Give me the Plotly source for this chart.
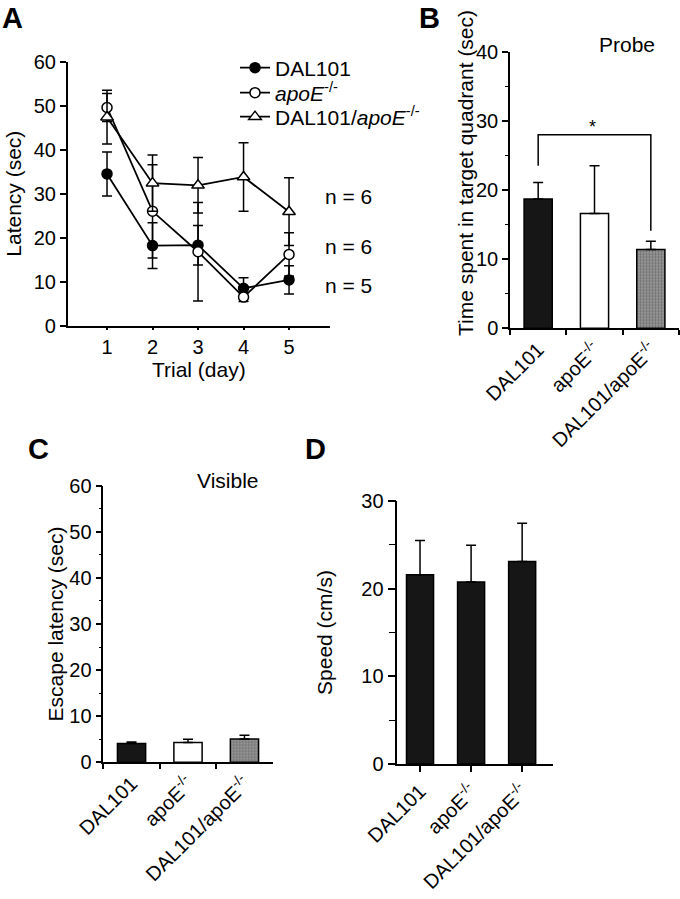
import plotly.graph_objects as go

W, H = 680, 899
FONT = "Liberation Sans, Arial, sans-serif"

# ---------------- data ----------------
days = [1, 2, 3, 4, 5]
lat_dal = [34.5, 18.2, 18.3, 8.5, 10.4]
lat_dal_err = [5.0, 5.2, 4.5, 2.4, 3.2]
lat_apoe = [49.6, 26.0, 16.8, 6.5, 16.2]
lat_apoe_err = [3.2, 10.6, 11.2, 1.0, 4.9]
lat_combo = [47.4, 32.4, 31.9, 33.8, 25.9]
lat_combo_err = [6.1, 6.4, 6.3, 7.8, 7.7]

groups = ["DAL101", "apoE", "DAL101/apoE"]
group_labels = ["DAL101", "apoE<sup>-/-</sup>", "DAL101/apoE<sup>-/-</sup>"]

probe_mean = [18.7, 16.6, 11.4]
probe_err = [2.4, 6.9, 1.2]

visible_mean = [4.1, 4.3, 5.05]
visible_err = [0.3, 0.7, 0.8]

speed_mean = [21.6, 20.75, 23.1]
speed_err = [3.9, 4.2, 4.35]

n_labels = ["n = 6", "n = 6", "n = 5"]

TICK = 20
TXT = 21


def px(x):
    return x / W


def py(y):
    return 1 - y / H


fig = go.Figure()

# ---------------- panel A ----------------
eb = dict(type="data", visible=True, color="black", thickness=1.5, width=5)
fig.add_trace(go.Scatter(
    x=days, y=lat_dal, name="DAL101", mode="lines+markers", legend="legend",
    line=dict(color="black", width=1.8),
    marker=dict(symbol="circle", size=10, color="black", line=dict(color="black", width=1.5)),
    error_y=dict(array=lat_dal_err, **eb), xaxis="x", yaxis="y"))
fig.add_trace(go.Scatter(
    x=days, y=lat_apoe, name="<i>apoE</i><sup>-/-</sup>", mode="lines+markers", legend="legend2",
    line=dict(color="black", width=1.8),
    marker=dict(symbol="circle", size=10, color="white", line=dict(color="black", width=1.5)),
    error_y=dict(array=lat_apoe_err, **eb), xaxis="x", yaxis="y"))
fig.add_trace(go.Scatter(
    x=days, y=lat_combo, name="DAL101/<i>apoE</i><sup>-/-</sup>", mode="lines+markers",
    legend="legend3",
    line=dict(color="black", width=1.8),
    marker=dict(symbol="triangle-up", size=11, color="white", line=dict(color="black", width=1.5)),
    error_y=dict(array=lat_combo_err, **eb), xaxis="x", yaxis="y"))

# ---------------- bar panels ----------------
bar_colors = ["#161616", "white", "#9a9a9a"]
bar_pattern = dict(shape=["", "", "."], fgcolor="#3a3a3a", bgcolor="#d8d8d8", size=3, solidity=0.45)
beb = dict(type="data", visible=True, color="black", thickness=1.5, width=5,
           symmetric=False, arrayminus=[0, 0, 0])

fig.add_trace(go.Bar(
    x=groups, y=probe_mean, width=0.5, showlegend=False,
    marker=dict(color=bar_colors, line=dict(color="black", width=1.5), pattern=bar_pattern),
    error_y=dict(array=probe_err, **beb), xaxis="x2", yaxis="y2"))

fig.add_trace(go.Bar(
    x=groups, y=visible_mean, width=0.5, showlegend=False,
    marker=dict(color=bar_colors, line=dict(color="black", width=1.5), pattern=bar_pattern),
    error_y=dict(array=visible_err, **beb), xaxis="x3", yaxis="y3"))

fig.add_trace(go.Bar(
    x=groups, y=speed_mean, width=0.53, showlegend=False,
    marker=dict(color="#161616", line=dict(color="black", width=1.5)),
    error_y=dict(array=speed_err, **beb), xaxis="x4", yaxis="y4"))

# ---------------- axes ----------------
tickfont = dict(family=FONT, size=TICK, color="black")
titlefont = dict(family=FONT, size=TXT, color="black")
common = dict(showline=True, linecolor="black", linewidth=1.5, showgrid=False,
              zeroline=False, ticks="outside", tickcolor="black", tickwidth=1.5,
              tickfont=tickfont, automargin=False, fixedrange=True)


def leg(y):
    return dict(x=px(235), y=py(y), xanchor="left", yanchor="middle",
                bgcolor="rgba(0,0,0,0)", font=dict(family=FONT, size=TXT, color="black"),
                itemwidth=30, borderwidth=0)


layout = dict(
    width=W, height=H, margin=dict(l=0, r=0, t=0, b=0),
    paper_bgcolor="white", plot_bgcolor="white",
    font=dict(family=FONT, size=TXT, color="black"),
    showlegend=True,
    legend=leg(68), legend2=leg(93), legend3=leg(117),
    xaxis=dict(domain=[px(67.7), px(330)], range=[0.136, 5.9], tickvals=days,
               ticklen=3, anchor="y",
               title=dict(text="Trial (day)", font=titlefont, standoff=2), **common),
    yaxis=dict(domain=[py(325.7), py(61.7)], range=[0, 60], dtick=10, ticklen=6,
               anchor="x",
               title=dict(text="Latency (sec)", font=titlefont, standoff=6), **common),
    xaxis2=dict(domain=[px(510), px(679)], range=[-0.5, 2.5], type="category",
                tickson="boundaries", ticklen=5, tickangle=-45, anchor="y2",
                tickvals=groups, ticktext=group_labels, **common),
    yaxis2=dict(domain=[py(328.3), py(51.7)], range=[0, 40], dtick=10, ticklen=6,
                anchor="x2",
                minor=dict(dtick=5, ticklen=3, ticks="outside", tickcolor="black", tickwidth=1),
                **common),
    xaxis3=dict(domain=[px(103.3), px(272.7)], range=[-0.5, 2.5], type="category",
                tickson="boundaries", ticklen=5, tickangle=-45, anchor="y3",
                tickvals=groups, ticktext=group_labels, **common),
    yaxis3=dict(domain=[py(762.3), py(485.7)], range=[0, 60], dtick=10, ticklen=6,
                anchor="x3",
                minor=dict(dtick=5, ticklen=3, ticks="outside", tickcolor="black", tickwidth=1),
                title=dict(text="Escape latency (sec)", font=titlefont, standoff=0),
                **common),
    xaxis4=dict(domain=[px(397.3), px(553.3)], range=[-0.445, 2.61], type="category",
                ticklen=6, tickangle=-45, anchor="y4",
                tickvals=groups, ticktext=group_labels, **common),
    yaxis4=dict(domain=[py(764), py(501)], range=[0, 30], dtick=10, ticklen=8,
                anchor="x4",
                minor=dict(dtick=5, ticklen=7, ticks="outside", tickcolor="black", tickwidth=1),
                title=dict(text="Speed (cm/s)", font=titlefont, standoff=23),
                **common),
)
fig.update_layout(**layout)

# ---------------- significance bracket (panel B) ----------------
fig.add_shape(type="path", xref="x2", yref="y2",
              path="M 0,23.5 L 0,28 L 2,28 L 2,14.1",
              line=dict(color="black", width=1.5))

# ---------------- annotations ----------------
ann = []
for t, (x, y) in zip(["A", "B", "C", "D"], [(0, 0), (417, 0), (26, 431), (303, 431)]):
    ann.append(dict(text=f"<b>{t}</b>", x=px(x), y=py(y), xref="paper", yref="paper",
                    showarrow=False, font=dict(family=FONT, size=29, color="black"),
                    xanchor="left", yanchor="top"))
for t, y in zip(n_labels, [197, 247, 285]):
    ann.append(dict(text=t, x=px(323), y=py(y), xref="paper", yref="paper",
                    showarrow=False, font=dict(family=FONT, size=TXT, color="black"),
                    xanchor="left", yanchor="middle"))
ann.append(dict(text="Probe", x=px(627), y=py(45), xref="paper", yref="paper",
                showarrow=False, font=dict(family=FONT, size=TXT, color="black"),
                xanchor="center", yanchor="middle"))
ann.append(dict(text="Visible", x=px(227), y=py(480), xref="paper", yref="paper",
                showarrow=False, font=dict(family=FONT, size=TXT, color="black"),
                xanchor="center", yanchor="middle"))
ann.append(dict(text="*", x=px(592), y=py(127), xref="paper", yref="paper",
                showarrow=False, font=dict(family=FONT, size=18, color="black"),
                xanchor="center", yanchor="middle"))
# y-axis title of panel B (placed like the original, slightly above the axis centre)
ann.append(dict(text="Time spent in target quadrant (sec)", x=px(465), y=py(173),
                xref="paper", yref="paper", showarrow=False, textangle=-90,
                font=dict(family=FONT, size=TXT, color="black"),
                xanchor="center", yanchor="middle"))
fig.update_layout(annotations=ann)

fig.write_html("out.html", config={"displayModeBar": False},
               post_script="document.body.style.margin='0';")
